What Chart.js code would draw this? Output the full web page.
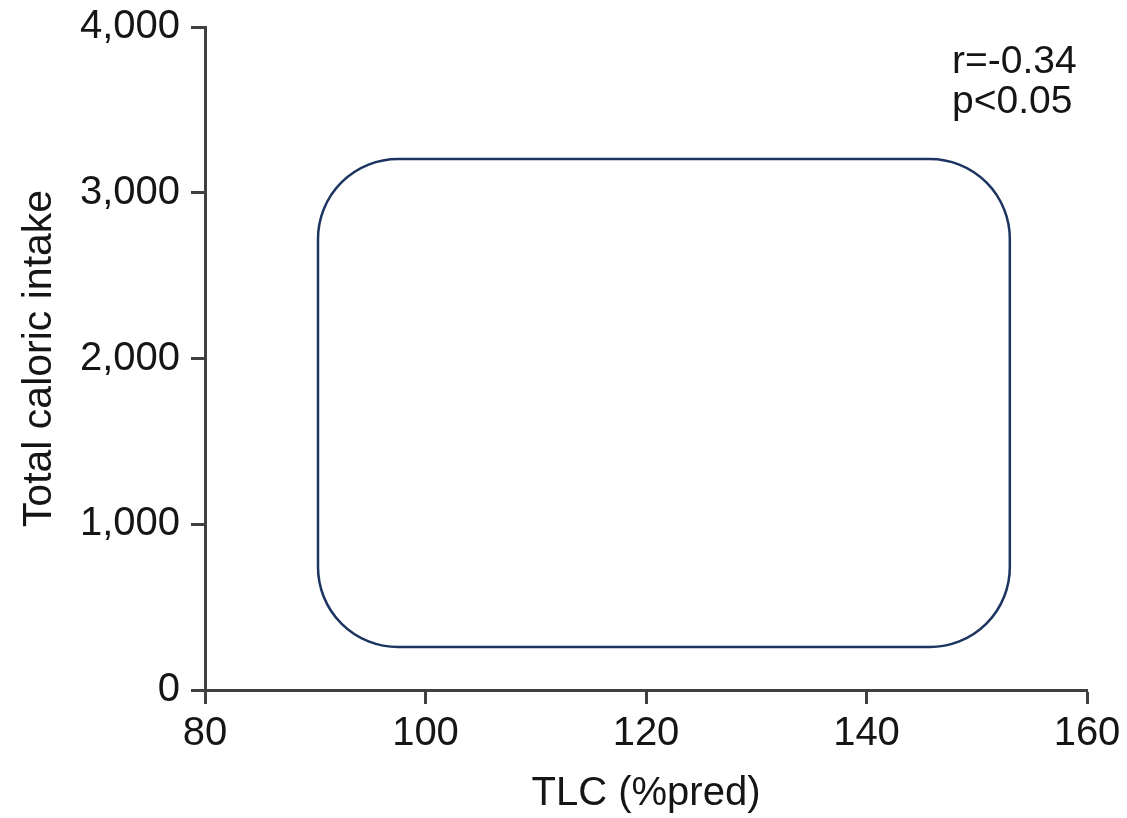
<!DOCTYPE html>
<html>
<head>
<meta charset="utf-8">
<title>TLC vs total caloric intake</title>
<script src="https://cdn.jsdelivr.net/npm/chart.js@4/dist/chart.umd.min.js"></script>
<style>
  html, body { margin: 0; padding: 0; background: #fff; }
  #wrap { width: 1127px; height: 818px; }
</style>
</head>
<body>
<div id="wrap"><canvas id="myChart" width="1127" height="818"></canvas></div>
<script>
// axis ranges
var xRange = [80, 160];
var yRange = [0, 4000];
var xStep = 20;
var yStep = 1000;

// region outlined on the plot (TLC %pred, kcal)
var boxX = [90.25, 153.0];
var boxY = [259, 3204];

// correlation stats
var statLines = ["r=-0.34", "p<0.05"];

var axisColor = "#404040";
var textColor = "#151515";
var fontFamily = "'Liberation Sans', Arial, Helvetica, sans-serif";

var boxPlugin = {
  id: "roundedBox",
  afterDatasetsDraw: function(chart) {
    var ctx = chart.ctx;
    var xs = chart.scales.x;
    var ys = chart.scales.y;
    var x0 = xs.getPixelForValue(boxX[0]);
    var x1 = xs.getPixelForValue(boxX[1]);
    var y0 = ys.getPixelForValue(boxY[1]);
    var y1 = ys.getPixelForValue(boxY[0]);
    ctx.save();
    ctx.strokeStyle = "#1b3560";
    ctx.lineWidth = 2.5;
    ctx.beginPath();
    ctx.roundRect(x0, y0, x1 - x0, y1 - y0, 80);
    ctx.stroke();
    ctx.restore();
  }
};

var statsPlugin = {
  id: "stats",
  afterDraw: function(chart) {
    var ctx = chart.ctx;
    var area = chart.chartArea;
    ctx.save();
    ctx.fillStyle = textColor;
    ctx.font = "39px " + fontFamily;
    ctx.textAlign = "left";
    ctx.textBaseline = "alphabetic";
    statLines.forEach(function(line, i) {
      ctx.fillText(line, area.right - 135, area.top + 46 + i * 40);
    });
    ctx.restore();
  }
};

var ctx = document.getElementById("myChart").getContext("2d");
var myChart = new Chart(ctx, {
  type: "scatter",
  data: {
    datasets: [
      {
        label: "TLC",
        data: [],
        pointRadius: 0
      }
    ]
  },
  options: {
    responsive: false,
    animation: false,
    layout: {
      padding: { top: 27, right: 40, bottom: 0, left: 0 }
    },
    plugins: {
      legend: { display: false },
      tooltip: { enabled: false }
    },
    scales: {
      x: {
        type: "linear",
        min: xRange[0],
        max: xRange[1],
        afterFit: function(scale) {
          scale.height = 128;
        },
        border: { display: true, color: axisColor, width: 3 },
        grid: {
          drawOnChartArea: false,
          drawTicks: true,
          tickLength: 14,
          tickWidth: 3,
          tickColor: axisColor
        },
        ticks: {
          stepSize: xStep,
          padding: 6,
          color: textColor,
          font: { family: fontFamily, size: 40 }
        },
        title: {
          display: true,
          text: "TLC (%pred)",
          color: textColor,
          padding: { top: 0, bottom: 0 },
          font: { family: fontFamily, size: 40 }
        }
      },
      y: {
        type: "linear",
        min: yRange[0],
        max: yRange[1],
        afterFit: function(scale) {
          scale.width = 205;
          // let the top label hang into the layout padding
          scale.paddingTop = 0;
          scale.paddingBottom = 0;
        },
        border: { display: true, color: axisColor, width: 3 },
        grid: {
          drawOnChartArea: false,
          drawTicks: true,
          tickLength: 14,
          tickWidth: 3,
          tickColor: axisColor
        },
        ticks: {
          stepSize: yStep,
          padding: 11,
          color: textColor,
          font: { family: fontFamily, size: 40 },
          callback: function(v) {
            return v.toLocaleString("en-US");
          }
        },
        title: {
          display: true,
          text: "Total caloric intake",
          color: textColor,
          padding: { top: 15, bottom: 0 },
          font: { family: fontFamily, size: 41 }
        }
      }
    }
  },
  plugins: [boxPlugin, statsPlugin]
});
</script>
</body>
</html>
